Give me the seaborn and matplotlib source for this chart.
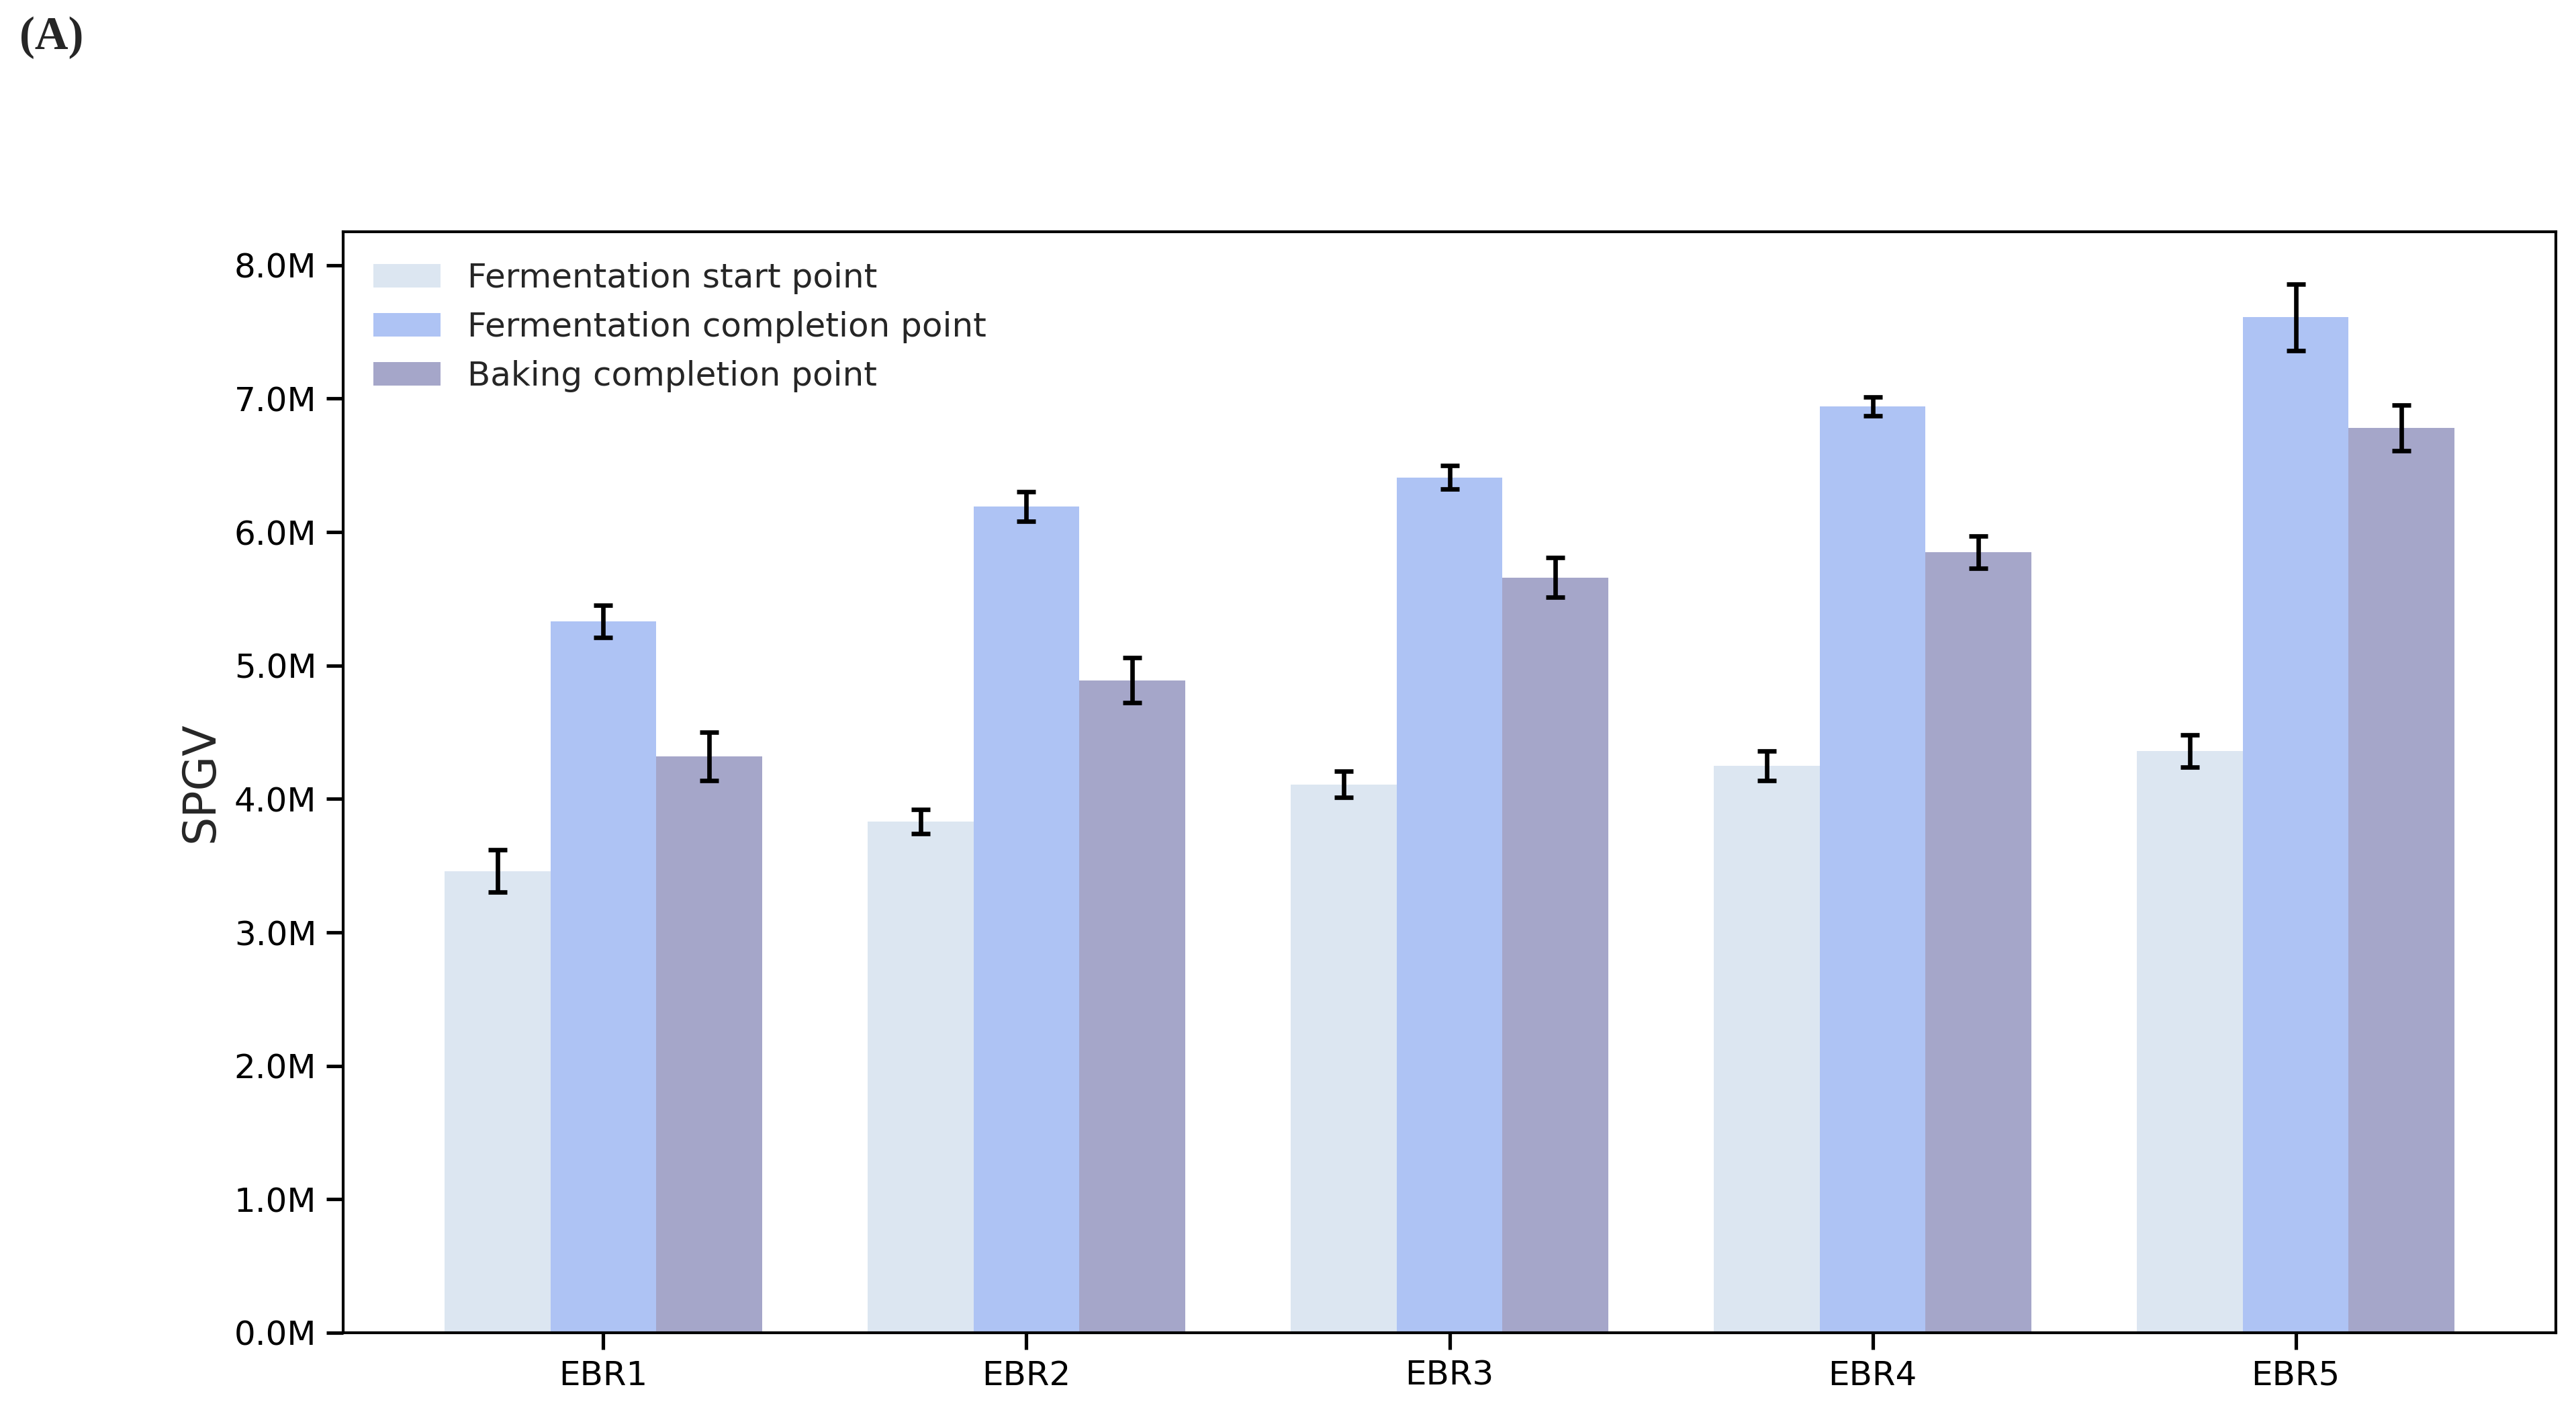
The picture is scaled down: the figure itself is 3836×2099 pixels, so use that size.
import pandas as pd
import matplotlib
matplotlib.use("Agg")
import matplotlib.pyplot as plt
import matplotlib.ticker as mticker
import seaborn as sns

# data (values in millions)
samples = ["EBR1", "EBR2", "EBR3", "EBR4", "EBR5"]
stages = ["Fermentation start point", "Fermentation completion point", "Baking completion point"]
start_mean = [3.46, 3.83, 4.11, 4.25, 4.36]
start_err = [0.16, 0.09, 0.10, 0.11, 0.12]
ferm_mean = [5.33, 6.19, 6.41, 6.94, 7.61]
ferm_err = [0.12, 0.11, 0.09, 0.07, 0.25]
bake_mean = [4.32, 4.89, 5.66, 5.85, 6.78]
bake_err = [0.18, 0.17, 0.15, 0.12, 0.17]

COLORS = ["#DCE6F1", "#AEC3F4", "#A5A6C9"]

sns.set_theme(style="ticks")
plt.rcParams.update({
    "font.family": ["DejaVu Sans"],
    "axes.edgecolor": "black",
    "axes.linewidth": 1.0,
    "xtick.color": "black",
    "ytick.color": "black",
    "xtick.labelsize": 12,
    "ytick.labelsize": 12,
})

means = [start_mean, ferm_mean, bake_mean]
errs = [start_err, ferm_err, bake_err]
rows = []
for st, m, e in zip(stages, means, errs):
    for s, v, ev in zip(samples, m, e):
        rows.append({"Sample": s, "Stage": st, "SPGV": v * 1e6, "err": ev * 1e6})
df = pd.DataFrame(rows)

fig = plt.figure(figsize=(3836 / 300, 2099 / 300), dpi=300)
ax = fig.add_axes([0.1332, 0.0548, 0.859, 0.7808])

sns.barplot(data=df, x="Sample", y="SPGV", hue="Stage", order=samples,
            hue_order=stages, palette=COLORS, width=0.75, errorbar=None,
            saturation=1, linewidth=0, ax=ax)

# error bars at the centres of the bars seaborn drew
for container, st in zip(ax.containers, stages):
    sub = df[df["Stage"] == st].set_index("Sample").loc[samples]
    xs = [p.get_x() + p.get_width() / 2 for p in container.patches]
    ys = [p.get_height() for p in container.patches]
    ax.errorbar(xs, ys, yerr=sub["err"].values, fmt="none", ecolor="black",
                elinewidth=1.6, capsize=3.4, capthick=1.6)

ax.set_xlim(-0.615, 4.615)
ax.set_ylim(0, 8.25e6)
ax.yaxis.set_major_locator(mticker.MultipleLocator(1e6))
ax.yaxis.set_major_formatter(mticker.FuncFormatter(lambda x, _: f"{x / 1e6:.1f}M"))
ax.set_xlabel("")
ax.set_ylabel("SPGV", fontsize=16)
for sp in ax.spines.values():
    sp.set_visible(True)

ax.legend(loc="upper left", frameon=False, fontsize=12)

fig.text(0.0076, 0.9886, "(A)", ha="left", va="top", fontsize=16.5,
         fontweight="bold", family=["Liberation Serif", "DejaVu Serif"])

fig.savefig("out.png", dpi=300)
